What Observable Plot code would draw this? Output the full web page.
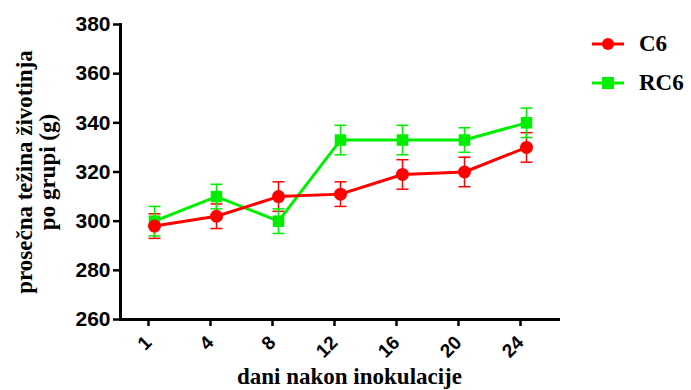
<!DOCTYPE html>
<html>
<head>
<meta charset="utf-8">
<script src="https://cdn.jsdelivr.net/npm/d3@7"></script>
<script src="https://cdn.jsdelivr.net/npm/@observablehq/plot@0.6"></script>
<style>
  html, body { margin: 0; padding: 0; background: #fff; }
  #wrap { position: relative; width: 691px; height: 390px; }
  #legend { position: absolute; left: 592px; top: 24px; font-family: "Liberation Serif", "Times New Roman", serif; font-weight: bold; font-size: 23px; }
  .row { display: flex; align-items: center; height: 39px; line-height: 1; }
  .row svg { margin-right: 15px; }
</style>
</head>
<body>
<div id="wrap"><div id="legend"></div></div>
<script>
const days = ["1", "4", "8", "12", "16", "20", "24"];
const c6Values = [298, 302, 310, 311, 319, 320, 330];
const c6Errors = [5, 5, 6, 5, 6, 6, 6];
const rc6Values = [300, 310, 300, 333, 333, 333, 340];
const rc6Errors = [6, 5, 5, 6, 6, 5, 6];
const yTicks = [260, 280, 300, 320, 340, 360, 380];
const seriesNames = ["C6", "RC6"];
const seriesColors = ["#ff0000", "#00ee00"];
const yTitle = "prosečna težina životinja\npo grupi (g)";
const xTitle = "dani nakon inokulacije";

const c6 = days.map((d, i) => ({day: d, value: c6Values[i], err: c6Errors[i]}));
const rc6 = days.map((d, i) => ({day: d, value: rc6Values[i], err: rc6Errors[i]}));

// horizontal cap symbol for error bars
const capSymbol = {draw(ctx) { ctx.moveTo(-6, 0); ctx.lineTo(6, 0); }};

function errMarks(data, color) {
  return [
    Plot.ruleX(data, {x: "day", y1: d => d.value - d.err, y2: d => d.value + d.err, stroke: color, strokeWidth: 1.5}),
    Plot.dot(data, {x: "day", y: d => d.value + d.err, symbol: capSymbol, stroke: color, strokeWidth: 1.5, fill: "none"}),
    Plot.dot(data, {x: "day", y: d => d.value - d.err, symbol: capSymbol, stroke: color, strokeWidth: 1.5, fill: "none"})
  ];
}

const serif = "'Liberation Serif', 'Times New Roman', serif";

const chart = Plot.plot({
  width: 691,
  height: 390,
  marginLeft: 120,
  marginRight: 131,
  marginTop: 24,
  marginBottom: 71,
  style: {fontFamily: "'Liberation Sans', Arial, sans-serif", color: "#000", background: "#fff", overflow: "visible"},
  x: {type: "point", domain: days, padding: 0.5},
  y: {domain: [260, 380]},
  marks: [
    Plot.axisY({ticks: yTicks, tickSize: 7, tickPadding: 3, fontSize: 21, fontWeight: "bold", strokeWidth: 2.5, label: null}),
    Plot.axisX({tickSize: 7, tickPadding: 13, dx: -6, tickRotate: -45, fontSize: 19, fontWeight: "bold", strokeWidth: 2.5, label: null}),
    Plot.frame({anchor: "left", strokeWidth: 3}),
    Plot.ruleY([260], {strokeWidth: 3}),
    ...errMarks(c6, seriesColors[0]),
    ...errMarks(rc6, seriesColors[1]),
    Plot.line(rc6, {x: "day", y: "value", stroke: seriesColors[1], strokeWidth: 3}),
    Plot.line(c6, {x: "day", y: "value", stroke: seriesColors[0], strokeWidth: 3}),
    Plot.dot(rc6, {x: "day", y: "value", symbol: "square", r: 6.5, fill: seriesColors[1], stroke: "none"}),
    Plot.dot(c6, {x: "day", y: "value", symbol: "circle", r: 6.5, fill: seriesColors[0], stroke: "none"}),
    Plot.text([yTitle], {frameAnchor: "left", textAnchor: "middle", rotate: -90, dx: -84, fontSize: 23, fontWeight: "bold", fontFamily: serif, lineHeight: 1.0, fill: "#000"}),
    Plot.text([xTitle], {frameAnchor: "bottom", textAnchor: "middle", dy: 64, dx: 9, fontSize: 23, fontWeight: "bold", fontFamily: serif, fill: "#000"})
  ]
});
document.getElementById("wrap").prepend(chart);

const legend = document.getElementById("legend");
seriesNames.forEach((name, i) => {
  const row = document.createElement("div");
  row.className = "row";
  const sym = i === 0
    ? `<circle cx="16" cy="8" r="6" fill="${seriesColors[i]}"/>`
    : `<rect x="10" y="2" width="12" height="12" fill="${seriesColors[i]}"/>`;
  row.innerHTML = `<svg width="32" height="16"><line x1="0" x2="32" y1="8" y2="8" stroke="${seriesColors[i]}" stroke-width="3"/>${sym}</svg><span>${name}</span>`;
  legend.appendChild(row);
});
</script>
</body>
</html>
